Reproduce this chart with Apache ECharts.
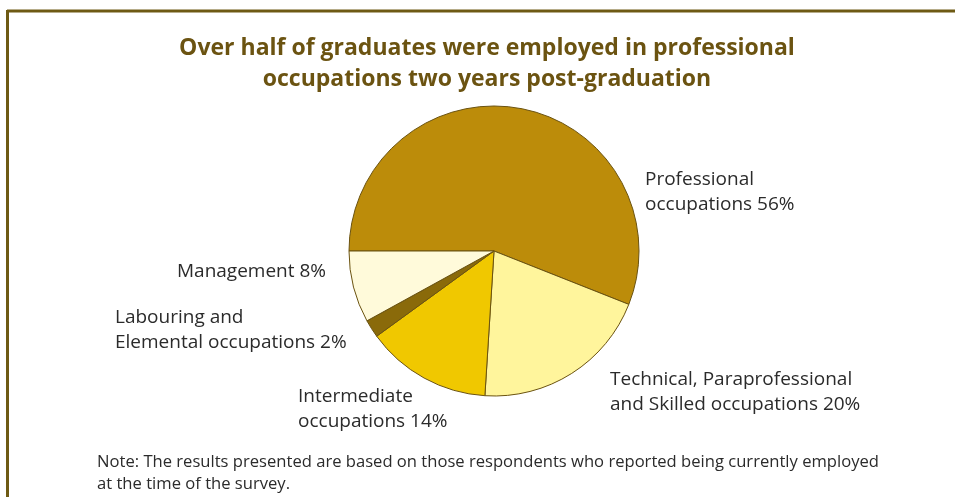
<!DOCTYPE html>
<html>
<head>
<meta charset="utf-8">
<script src="https://cdn.jsdelivr.net/npm/echarts@6/dist/echarts.min.js"></script>
<style>
  html, body { margin: 0; padding: 0; background: #fff; }
  #chart { width: 955px; height: 497px; }
</style>
</head>
<body>
<div id="chart"></div>
<script>
// Occupation categories (clockwise from 9 o'clock) and their shares in %
const categories = [
  'Professional\noccupations',
  'Technical, Paraprofessional\nand Skilled occupations',
  'Intermediate\noccupations',
  'Labouring and\nElemental occupations',
  'Management'
];
const shares = [56, 20, 14, 2, 8];
const sliceColors = ['#BC8C0A', '#FFF59C', '#F0C800', '#8A6A0A', '#FFFADA'];

const titleText = 'Over half of graduates were employed in professional\noccupations two years post-graduation';
const noteText = 'Note: The results presented are based on those respondents who reported being currently employed\nat the time of the survey.';

// Label anchor points per slice (left/top of each text block)
const labelSpots = [
  { x: 645, y: 167 },
  { x: 610, y: 367 },
  { x: 298, y: 384 },
  { x: 115, y: 305 },
  { x: 177, y: 259 }
];

const chart = echarts.init(document.getElementById('chart'));
const fontFamily = '"Open Sans", "Noto Sans", sans-serif';

chart.setOption({
  backgroundColor: '#ffffff',
  animation: false,
  graphic: [
    { type: 'line', shape: { x1: 7, y1: 11, x2: 955, y2: 11 }, style: { stroke: '#6E5A14', lineWidth: 3 } },
    { type: 'line', shape: { x1: 7.5, y1: 10, x2: 7.5, y2: 497 }, style: { stroke: '#6E5A14', lineWidth: 3 } },
    {
      type: 'text', x: 487, y: 33,
      style: {
        text: titleText,
        font: 'bold 23px ' + fontFamily,
        lineHeight: 31,
        fill: '#6B5311',
        align: 'center',
        verticalAlign: 'top'
      }
    },
    {
      type: 'text', left: 97, top: 451,
      style: { text: noteText, font: '16.6px ' + fontFamily, lineHeight: 22, fill: '#2b2b2b' }
    }
  ],
  series: [{
    type: 'pie',
    center: [494, 251],
    radius: 145,
    startAngle: 180,
    clockwise: true,
    data: categories.map((name, i) => ({
      name: name,
      value: shares[i],
      itemStyle: { color: sliceColors[i] }
    })),
    itemStyle: { borderColor: '#6B5311', borderWidth: 1 },
    label: {
      show: true,
      position: 'outside',
      formatter: (p) => p.name + ' ' + p.value + '%',
      fontFamily: fontFamily,
      fontSize: 19,
      lineHeight: 25,
      color: '#2b2b2b'
    },
    labelLine: { show: false },
    labelLayout: (params) => {
      const s = labelSpots[params.dataIndex];
      return { x: s.x, y: s.y, align: 'left', verticalAlign: 'top' };
    },
    emphasis: { disabled: true }
  }]
});
</script>
</body>
</html>
